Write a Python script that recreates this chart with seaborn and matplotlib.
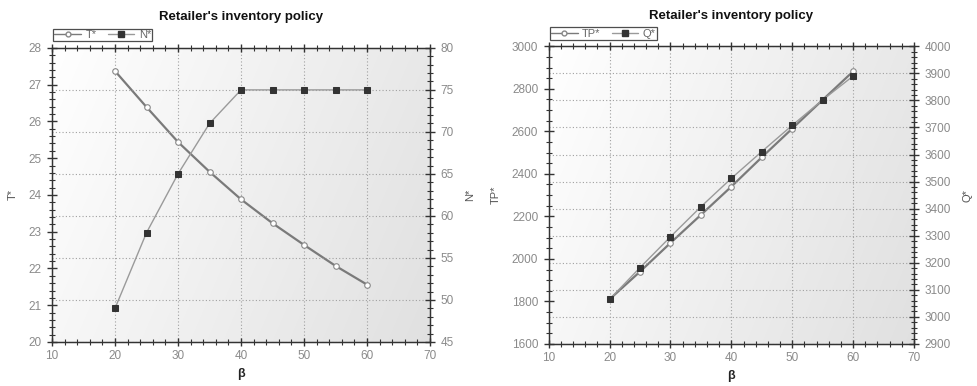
import numpy as np
import pandas as pd
import matplotlib
matplotlib.use("Agg")
import matplotlib.pyplot as plt
from matplotlib.ticker import MultipleLocator, AutoMinorLocator
from matplotlib.lines import Line2D
import seaborn as sns

# ---- data ----
beta = [20, 25, 30, 35, 40, 45, 50, 55, 60]
T_star = [27.37, 26.39, 25.44, 24.63, 23.88, 23.23, 22.64, 22.07, 21.56]
N_star = [49, 58, 65, 71, 75, 75, 75, 75, 75]
TP_star = [1810, 1940, 2075, 2207, 2340, 2478, 2613, 2748, 2882]
Q_star = [3065, 3182, 3296, 3407, 3512, 3611, 3708, 3802, 3890]
title = "Retailer's inventory policy"

sns.set_style("white")
plt.rcParams['font.family'] = ['Liberation Sans', 'DejaVu Sans']

fig = plt.figure(figsize=(9.77, 3.86), dpi=100)

TICK_GRAY = "#8a8a8a"
LINE_GRAY = "#7a7a7a"


def gradient_bg(ax):
    g = np.linspace(0, 1, 256)
    xx, yy = np.meshgrid(g, g)
    val = 1.0 - 0.09 * xx - 0.03 * yy
    rgb = np.dstack([val, val, val])
    ax.imshow(rgb, extent=[0, 1, 0, 1], transform=ax.transAxes,
              aspect="auto", zorder=-10, interpolation="bilinear")


def panel(rect, df, left_col, right_col, xlim, ylim_l, ylim_r,
          maj_l, min_l, maj_r, min_r, lab_l, lab_r):
    ax = fig.add_axes(rect)
    gradient_bg(ax)
    ax2 = ax.twinx()
    sns.lineplot(data=df, x="beta", y=left_col, ax=ax, color=LINE_GRAY,
                 linewidth=1.6, marker="o", markersize=4,
                 markerfacecolor="white", markeredgecolor="#888888",
                 markeredgewidth=0.8, zorder=5)
    sns.lineplot(data=df, x="beta", y=right_col, ax=ax2, color="#9a9a9a",
                 linewidth=1.0, marker="s", markersize=4.6,
                 markerfacecolor="#333333", markeredgecolor="#333333",
                 zorder=5)
    ax.set_xlim(*xlim)
    ax.set_ylim(*ylim_l)
    ax2.set_ylim(*ylim_r)
    ax.xaxis.set_major_locator(MultipleLocator(10))
    ax.xaxis.set_minor_locator(AutoMinorLocator(5))
    ax.yaxis.set_major_locator(MultipleLocator(maj_l))
    ax.yaxis.set_minor_locator(AutoMinorLocator(min_l))
    ax2.yaxis.set_major_locator(MultipleLocator(maj_r))
    ax2.yaxis.set_minor_locator(AutoMinorLocator(min_r))

    ax.grid(False)
    ax2.grid(False)
    ax.xaxis.grid(True, which="major", linestyle=(0, (1, 2)),
                  color="#a0a0a0", linewidth=0.8)
    ax2.yaxis.grid(True, which="major", linestyle=(0, (1, 2)),
                   color="#a0a0a0", linewidth=0.8)
    ax2.set_axisbelow(True)

    for a in (ax, ax2):
        for s in a.spines.values():
            s.set_visible(True)
            s.set_color("#333333")
            s.set_linewidth(0.9)
    ax.tick_params(axis="x", which="both", direction="inout", bottom=True,
                   top=True, colors="#333333", labelcolor=TICK_GRAY,
                   labelsize=8.5, pad=3)
    ax.tick_params(axis="x", which="major", length=6, width=1)
    ax.tick_params(axis="x", which="minor", length=4, width=0.8)
    ax.tick_params(axis="y", which="both", direction="inout", left=True,
                   right=False, colors="#333333", labelcolor=TICK_GRAY,
                   labelsize=8.5, pad=4)
    ax.tick_params(axis="y", which="major", length=7, width=1)
    ax.tick_params(axis="y", which="minor", length=4, width=0.8)
    ax2.tick_params(axis="y", which="both", direction="inout", right=True,
                    left=False, colors="#333333", labelcolor=TICK_GRAY,
                    labelsize=8.5, pad=4)
    ax2.tick_params(axis="y", which="major", length=7, width=1)
    ax2.tick_params(axis="y", which="minor", length=4, width=0.8)

    ax.set_xlabel("β", fontsize=9, fontweight="bold", color="#222222",
                  labelpad=4)
    ax.set_ylabel(lab_l, fontsize=8, color="#555555", labelpad=8)
    ax2.set_ylabel(lab_r, fontsize=8, color="#555555", labelpad=8)
    ax.set_title(title, fontsize=9.5, fontweight="bold", color="#111111",
                 pad=20)

    h1 = Line2D([], [], color=LINE_GRAY, linewidth=1.0, marker="o",
                markersize=3.5, markerfacecolor="white",
                markeredgecolor="#888888")
    h2 = Line2D([], [], color="#9a9a9a", linewidth=1.0, marker="s",
                markersize=4, markerfacecolor="#333333",
                markeredgecolor="#333333")
    leg = ax2.legend([h1, h2], [lab_l, lab_r], loc="lower left",
                     bbox_to_anchor=(-0.003, 1.015), ncol=2, frameon=True,
                     fancybox=False, edgecolor="#222222", fontsize=8,
                     handlelength=2.4, borderpad=0.1, columnspacing=1.0,
                     handletextpad=0.4, borderaxespad=0.2)
    leg.get_frame().set_linewidth(0.9)
    for t in leg.get_texts():
        t.set_color("#666666")
    return ax, ax2


df = pd.DataFrame({"beta": beta, "T*": T_star, "N*": N_star,
                   "TP*": TP_star, "Q*": Q_star})

panel([0.0532, 0.114, 0.3870, 0.762], df, "T*", "N*", (10, 70), (20, 28),
      (45, 80), 1, 5, 5, 5, "T*", "N*")
panel([0.5616, 0.109, 0.3739, 0.771], df, "TP*", "Q*", (10, 70),
      (1600, 3000), (2900, 4000), 200, 4, 100, 5, "TP*", "Q*")

fig.savefig("out.png", dpi=100)
